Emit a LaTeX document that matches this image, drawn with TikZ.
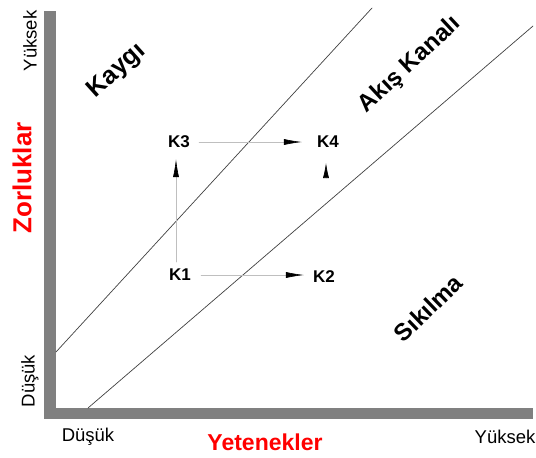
\documentclass[tikz,border=0pt]{standalone}
\usepackage{fontspec}
\setmainfont{Liberation Sans}
\usetikzlibrary{arrows.meta,positioning}
\definecolor{barGray}{RGB}{128,128,128}
\definecolor{titleRed}{RGB}{255,0,0}

\begin{document}
\begin{tikzpicture}[x=1pt,y=-1pt,line cap=round,line join=round,
		klabel/.style={font=\fontsize{17}{17}\selectfont\bfseries,inner sep=0pt},
		zone/.style={font=\fontsize{24}{24}\selectfont\bfseries},
		axistitle/.style={font=\fontsize{23}{23}\selectfont\bfseries,text=titleRed},
		scalelabel/.style={font=\fontsize{18.5}{18.5}\selectfont},
		move/.style={black!25,line width=0.6pt,-{Latex[length=18pt,width=6pt,color=black]}}]
		\useasboundingbox (0,0) rectangle (536,458);
		% axes
		\fill[barGray] (44,11) rectangle (56,419);
		\fill[barGray] (44,408) rectangle (533,419);
		% channel borders
		\draw[black!75,line width=0.7pt] (56,352) -- (372,8);
		\draw[black!75,line width=0.7pt] (88,408) -- (533,26);
		% axis texts
		\node[scalelabel,rotate=90] (yHigh) at (30,41) {Yüksek};
		\node[axistitle,font=\fontsize{26}{26}\selectfont\bfseries,rotate=90] (yTitle) at (22,178) {Zorluklar};
		\node[scalelabel,rotate=90] (yLow) at (30,381) {Düşük};
		\node[scalelabel] (xLow) at (88,437) {Düşük};
		\node[axistitle] (xTitle) at (265,442) {Yetenekler};
		\node[scalelabel] (xHigh) at (505,437) {Yüksek};
		% zones
		\node[zone,font=\fontsize{25}{25}\selectfont\bfseries,rotate=42] (anxiety) at (117,71) {Kaygı};
		\node[zone,rotate=43] (flow) at (410,65) {Akış Kanalı};
		\node[zone,rotate=44] (boredom) at (428,308) {Sıkılma};
		% states
		\node[klabel] (K1) at (180,275) {K1};
		\node[klabel] (K2) at (324,277) {K2};
		\node[klabel] (K3) at (179,142) {K3};
		\node[klabel] (K4) at (328,142) {K4};
		\coordinate (K4base) at (326,178);
		\draw[move,shorten <=10pt,shorten >=9pt] (K1.east) -- (K1.east -| K2.west);
		\draw[move,shorten <=9pt,shorten >=15pt] (K3.east) -- (K3.east -| K4.west);
		\draw[move,shorten <=7pt,shorten >=11pt] (K1.north -| 176,0) -- (K3.south -| 176,0);
		\draw[move,-{Latex[length=15pt,width=6pt,color=black]}] (K4base) -- (K4base |- 0,163);
\end{tikzpicture}
\end{document}
